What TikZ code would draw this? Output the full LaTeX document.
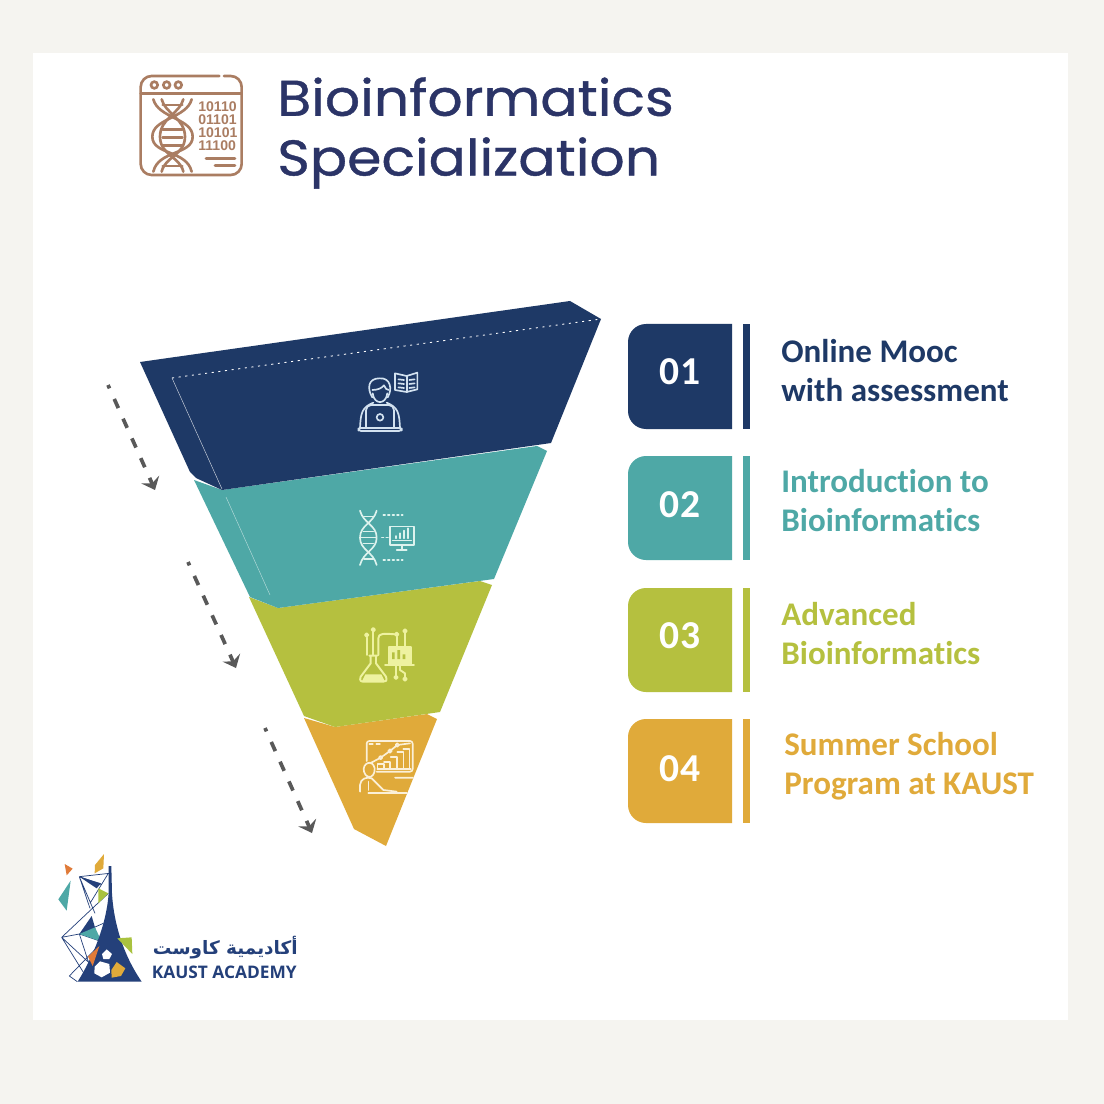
\documentclass[tikz,border=0pt]{standalone}
\usepackage{fontspec}
\usetikzlibrary{arrows.meta}
\setmainfont{Carlito}[Ligatures=NoCommon]
\newfontfamily\titlefont[FakeStretch=1.10,FakeBold=0.8]{Poppins}
\newfontfamily\logofont{Open Sans}
\newfontfamily\digitfont{Liberation Sans}
\newfontfamily\arabicfont[Script=Arabic]{DejaVu Sans}
\TeXXeTstate=1
\definecolor{pagebg}{HTML}{F5F4F0}
\definecolor{navy}{HTML}{1E3966}
\definecolor{tealc}{HTML}{4EA8A6}
\definecolor{olive}{HTML}{B5C03F}
\definecolor{orangec}{HTML}{E0AA3A}
\definecolor{brownc}{HTML}{AA7D62}
\definecolor{titlec}{HTML}{2B3467}
\definecolor{grayc}{HTML}{595959}
\definecolor{logonavy}{HTML}{24407A}
\definecolor{logoorange}{HTML}{E07B39}
\definecolor{logogreen}{HTML}{A9C23F}
\definecolor{iconA}{HTML}{D3E2F0}
\definecolor{iconB}{HTML}{DDF3EE}
\definecolor{iconC}{HTML}{EEF2A0}
\definecolor{iconD}{HTML}{FBF0D8}
\tikzset{
  px/.style={x=0.02cm,y=-0.02cm},
  zoomed/.style={x=0.0066667cm,y=-0.0066667cm},
  flowarrow/.style={draw=grayc,line width=2.1pt,dash pattern=on 5.7pt off 6.6pt,dash phase=3.6pt,-{Stealth[inset=2.4pt,length=6.5pt,width=11pt]}},
  rowtext/.style={anchor=west,align=left,inner sep=0,font=\fontsize{18.8}{22.2}\selectfont\bfseries},
  numtext/.style={anchor=center,inner sep=0,text=white,font=\fontsize{22.5}{24}\selectfont\bfseries},
  icon/.style={line width=0.95pt,line cap=round,line join=round},
  bin/.style={inner sep=0,anchor=west,text=brownc,font=\digitfont\fontsize{8}{8}\selectfont\bfseries},
}
\begin{document}
\begin{tikzpicture}[px]
\useasboundingbox (0,0) rectangle (1104,1104);
\fill[pagebg] (0,0) rectangle (1104,1104);
\fill[white] (33,53) rectangle (1068,1020);

% title icon
\begin{scope}[shift={(120,60)},zoomed,draw=brownc,line width=1.5pt,line cap=round]
  \draw[rounded corners=0.22cm] (298,48) -- (62,48) -- (62,345) -- (365,345) -- (365,48) -- (312,48);
  \draw (62,100) -- (365,100);
  \foreach \c in {103,140,175} \draw (\c,75) circle[radius=10];
  \draw (100,118) .. controls (115,175) and (218,175) .. (218,230) .. controls (218,285) and (115,270) .. (100,335);
  \draw (125,118) .. controls (135,160) and (195,175) .. (195,230) .. controls (195,285) and (135,290) .. (125,335);
  \draw (215,118) .. controls (200,175) and (97,175) .. (97,230) .. controls (97,285) and (200,270) .. (215,335);
  \draw (190,118) .. controls (180,160) and (120,175) .. (120,230) .. controls (120,285) and (180,290) .. (190,335);
  \foreach \y in {135,208,232,256,318} \draw (128,\y) -- (187,\y);
  \draw (258,295) -- (345,295);
  \draw (285,316) -- (345,316);
\end{scope}
\node[bin] (bin1) at (198,107) {10110};
\node[bin] (bin2) at (198,120) {01101};
\node[bin] (bin3) at (198,133) {10101};
\node[bin] (bin4) at (198,146) {11100};

\node[anchor=west,align=left,inner sep=0,text=titlec,font=\titlefont\fontsize{28.6}{34}\selectfont] (title) at (277,133) {Bioinformatics\\Specialization};

% funnel
\fill[orangec] (304,718) -- (335,727) -- (427,714) -- (437,719) -- (386,846) -- (354,829) -- cycle;
\fill[olive] (249,597) -- (278,608) -- (480,581) -- (492,585) -- (440,712) -- (335,727) -- (304,716) -- cycle;
\fill[tealc] (194,480) -- (222,490) -- (537,446) -- (547,451) -- (494,579) -- (278,608) -- (250,597) -- cycle;
\fill[navy] (140,362) -- (570,301) -- (601,319) -- (551,443) -- (222,490) -- (196,478) -- (190,472) -- cycle;
\draw[white,line width=0.5pt,dash pattern=on 1.2pt off 2.6pt] (172,378) -- (601,319);
\draw[white,line width=0.25pt,opacity=.8] (172,378) -- (222,489);
\draw[white,line width=0.25pt,opacity=.6] (226,497) -- (270,595);

% icon 1
\begin{scope}[shift={(340,360)},zoomed,icon,draw=iconA]
  \draw (97,112) .. controls (80,85) and (85,55) .. (118,55) .. controls (152,52) and (158,88) .. (143,112);
  \draw (97,90) .. controls (112,90) and (125,85) .. (132,76) .. controls (136,85) and (140,90) .. (146,90);
  \draw (98,100) .. controls (102,135) and (138,135) .. (142,100);
  \draw (60,205) .. controls (62,160) and (65,142) .. (100,128);
  \draw (180,205) .. controls (178,160) and (175,142) .. (140,128);
  \draw[rounded corners=3pt] (78,205) -- (78,135) -- (162,135) -- (162,205);
  \draw[rounded corners=1.5pt] (55,204) rectangle (185,213);
  \draw (120,172) circle[radius=10];
  \draw (165,40) -- (200,48) -- (232,38) -- (232,88) -- (200,96) -- (165,90) -- cycle;
  \draw (200,48) -- (200,96);
  \foreach \y in {58,70,82} {\draw (175,\y) -- (192,\y+2); \draw (208,\y+2) -- (224,\y);}
\end{scope}
% icon 2
\begin{scope}[shift={(340,360)},zoomed,icon,draw=iconB]
  \draw (60,452) .. controls (70,490) and (110,495) .. (110,533) .. controls (110,570) and (70,575) .. (60,615);
  \draw (110,452) .. controls (100,490) and (60,495) .. (60,533) .. controls (60,570) and (100,575) .. (110,615);
  \foreach \y/\a/\b in {470/72/100,515/70/100,533/62/108,551/70/100,598/72/100} \draw (\a,\y) -- (\b,\y);
  \draw[dash pattern=on 1pt off 1.6pt] (130,466) -- (188,466);
  \draw[dash pattern=on 1pt off 1.6pt] (130,600) -- (188,600);
  \draw[dash pattern=on 1pt off 1.6pt] (125,533) -- (148,533);
  \draw (150,500) rectangle (222,555);
  \draw (185,555) -- (185,570) (170,570) -- (200,570);
  \draw (168,535) -- (168,528) (180,535) -- (180,520) (192,535) -- (192,512) (204,535) -- (204,505);
  \draw (158,542) -- (214,542);
\end{scope}
% icon 3
\begin{scope}[shift={(340,615)},zoomed,icon,draw=iconC,line width=1.1pt]
  \draw (88,122) -- (112,122) (92,122) -- (92,145) -- (62,185) .. controls (58,198) and (62,200) .. (72,200) -- (130,200) .. controls (138,200) and (142,198) .. (138,185) -- (108,145) -- (108,122);
  \fill[iconC] (76,178) -- (124,178) -- (134,198) -- (66,198) -- cycle;
  \draw (148,97) rectangle (212,148);
  \draw (135,150) -- (222,150);
  \fill[iconC] (148,97) rectangle (212,148);
  \fill[olive] (156,132) rectangle (164,112) (172,132) rectangle (180,105) (188,132) rectangle (196,118);
  \draw (80,68) -- (80,120) (100,50) -- (100,120);
  \draw (80,60) circle[radius=5] (100,44) circle[radius=5];
  \draw (115,120) -- (115,70) .. controls (115,55) and (130,55) .. (165,58);
  \draw (170,95) -- (170,65) (195,95) -- (195,55);
  \draw (170,58) circle[radius=5] (195,48) circle[radius=5];
  \draw (168,150) -- (168,180) (180,150) -- (180,165) -- (195,175) -- (195,185);
  \draw (168,187) circle[radius=5] (195,192) circle[radius=5];
\end{scope}
% icon 4
\begin{scope}
\clip (304,718) -- (335,727) -- (427,714) -- (437,719) -- (386,846) -- (354,829) -- cycle;
\begin{scope}[shift={(340,615)},zoomed,icon,draw=iconD]
  \draw[rounded corners=1.5pt] (80,438) -- (80,378) -- (218,378) -- (218,470) -- (110,470);
  \draw[dash pattern=on 2pt off 2pt] (88,386) -- (130,386);
  \draw (112,462) -- (112,448) -- (132,448) -- (132,462) (132,442) -- (150,442) -- (150,462) (152,425) -- (170,425) -- (170,462) (172,410) -- (190,410) -- (190,462) (190,402) -- (208,402) -- (208,462);
  \draw (112,462) -- (212,462);
  \draw (90,445) -- (122,428) -- (150,408) -- (172,390) -- (210,385);
  \foreach \p in {(122,428),(150,408),(172,390)} \draw[fill=orangec] \p circle[radius=5];
  \draw (72,470) .. controls (65,445) and (98,430) .. (104,460) .. controls (106,475) and (95,490) .. (85,485) .. controls (75,482) and (75,475) .. (72,470);
  \draw (60,530) -- (60,510) .. controls (62,490) and (80,485) .. (95,490) -- (130,525) -- (170,530);
  \draw (85,525) -- (85,500) (85,535) -- (200,535);
  \draw (165,488) -- (225,488) -- (205,535);
\end{scope}
\end{scope}

% flow arrows
\coordinate (a1) at (108,385); \coordinate (a2) at (155,490);
\coordinate (b1) at (188,562); \coordinate (b2) at (236,668);
\coordinate (c1) at (265,728); \coordinate (c2) at (312,833);
\draw[flowarrow] (a1) -- (a2);
\draw[flowarrow] (b1) -- (b2);
\draw[flowarrow] (c1) -- (c2);

% rows
\foreach \top/\bot/\col in {324/429/navy,456/560/tealc,588/692/olive,719/823/orangec}{
  \fill[\col] (732,\top) [rounded corners=0.36cm] -- (628,\top) -- (628,\bot) [sharp corners] -- (732,\bot) -- cycle;
  \fill[\col] (743,\top) rectangle (750,\bot);
}
\node[numtext] (n1) at (680,372) {01};
\node[numtext] (n2) at (680,505) {02};
\node[numtext] (n3) at (680,636) {03};
\node[numtext] (n4) at (680,769) {04};
\node[rowtext,text=navy] (t1) at (781,370.5) {Online Mooc\\with assessment};
\node[rowtext,text=tealc] (t2) at (781,501) {Introduction to\\Bioinformatics};
\node[rowtext,text=olive] (t3) at (781,633.5) {Advanced\\Bioinformatics};
\node[rowtext,text=orangec] (t4) at (784,766.5) {Summer School\\Program at KAUST};

% logo
\begin{scope}[shift={(40,840)},zoomed]
  \fill[orangec] (192,42) -- (190,85) -- (164,100) -- (165,75) -- cycle;
  \fill[logoorange] (74,72) -- (98,86) -- (80,106) -- cycle;
  \fill[tealc] (92,122) -- (80,212) -- (55,178) -- cycle;
  \draw[logonavy,line width=0.4pt,line join=round]
    (118,110) -- (208,100) (118,110) -- (183,133) (118,110) -- (165,220) (118,110) -- (150,205)
    (205,160) -- (65,292) -- (118,282) -- (190,250) (65,292) -- (132,400) (65,292) -- (160,380)
    (205,100) -- (150,190) (118,282) -- (185,305) (118,282) -- (150,380)
    (175,318) -- (88,408) -- (112,425) (132,400) -- (160,372);
  \fill[logonavy] (118,110) -- (183,130) -- (170,145) -- cycle;
  \fill[logogreen] (175,145) -- (205,160) -- (175,190) -- cycle;
  \fill[logonavy] (155,228) -- (170,280) -- (118,282) -- cycle;
  \fill[tealc] (118,282) -- (165,262) -- (185,305) -- cycle;
  \fill[logonavy] (206,78) -- (214,78) -- (216,160) .. controls (220,230) and (240,330) .. (305,425) -- (113,425) .. controls (160,350) and (200,250) .. (206,160) -- cycle;
  \fill[logoorange] (178,318) -- (158,378) -- (144,350) -- cycle;
  \fill[logogreen] (232,295) -- (275,292) -- (277,342) -- cycle;
  \fill[white] (200,328) -- (216,342) -- (208,357) -- (190,357) -- (186,342) -- cycle;
  \fill[white] (180,364) -- (208,372) -- (210,398) -- (185,412) -- (163,400) -- (164,380) -- cycle;
  \fill[orangec] (230,366) -- (256,385) -- (243,408) -- (215,413) -- (214,390) -- cycle;
\end{scope}
\node[inner sep=0,anchor=east,text=logonavy,font=\arabicfont\fontsize{10.5}{12}\selectfont\bfseries] (logoar) at (298,948) {\beginR أكاديمية كاوست\endR};
\node[inner sep=0,anchor=east,text=logonavy,font=\logofont\fontsize{9.85}{11}\selectfont\bfseries] (logoen) at (297,972) {KAUST ACADEMY};
\end{tikzpicture}
\end{document}
